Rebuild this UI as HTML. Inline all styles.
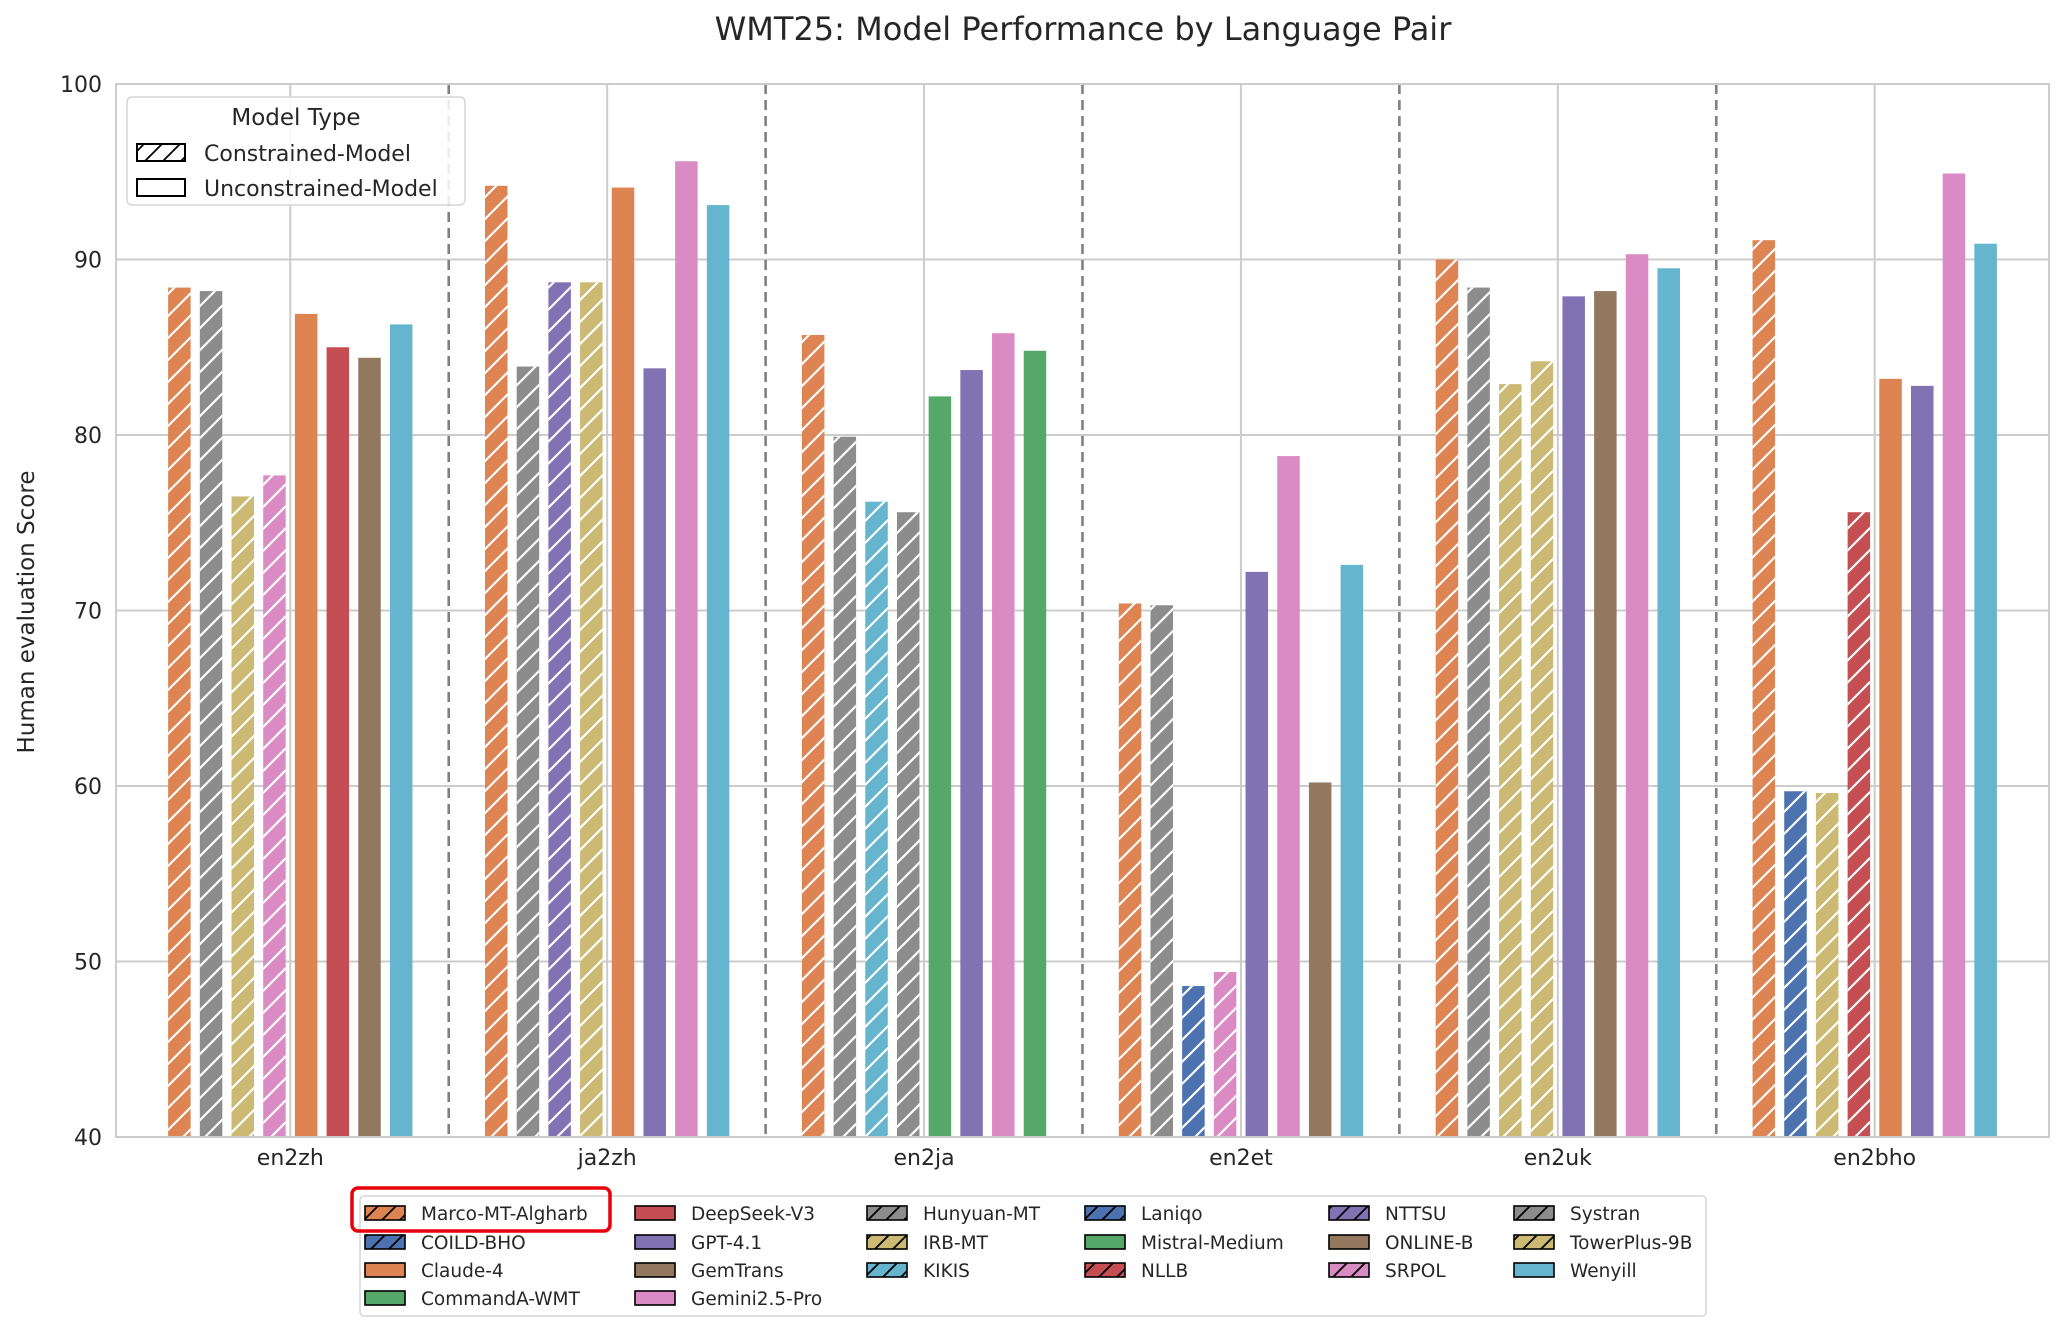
<!DOCTYPE html>
<html><head><meta charset="utf-8"><style>
html,body{margin:0;padding:0;background:#fff;}
svg{display:block;font-family:"DejaVu Sans","Liberation Sans",sans-serif;}
</style></head><body>
<svg id="chart" width="2065" height="1328" viewBox="0 0 2065 1328" xmlns="http://www.w3.org/2000/svg">
<defs>
<pattern id="hatch" patternUnits="userSpaceOnUse" width="22" height="22">
<path d="M-2,24 L24,-2 M-13,13 L13,-13 M9,35 L35,9" stroke="#fff" stroke-width="2.2"/>
</pattern>
<pattern id="hatchL" patternUnits="userSpaceOnUse" width="18" height="18">
<path d="M-2,20 L20,-2 M-11,11 L11,-11 M7,29 L29,7" stroke="#000" stroke-width="1.8"/>
</pattern>
</defs>
<g id="grid"></g>
<g id="bars"></g>
<g id="axes"></g>
<g id="legends"></g>
</svg>
<script>
const categories = ["en2zh","ja2zh","en2ja","en2et","en2uk","en2bho"];
const modelsEn2zh = ["Marco-MT-Algharb","Hunyuan-MT","IRB-MT","SRPOL","Claude-4","DeepSeek-V3","ONLINE-B","Wenyill"];
const valuesEn2zh = [88.4,88.2,76.5,77.7,86.9,85.0,84.4,86.3];
const modelsJa2zh = ["Marco-MT-Algharb","Hunyuan-MT","NTTSU","IRB-MT","Claude-4","GPT-4.1","Gemini2.5-Pro","Wenyill"];
const valuesJa2zh = [94.2,83.9,88.7,88.7,94.1,83.8,95.6,93.1];
const modelsEn2ja = ["Marco-MT-Algharb","Hunyuan-MT","KIKIS","Systran","Mistral-Medium","GPT-4.1","Gemini2.5-Pro","CommandA-WMT"];
const valuesEn2ja = [85.7,79.9,76.2,75.6,82.2,83.7,85.8,84.8];
const modelsEn2et = ["Marco-MT-Algharb","Hunyuan-MT","Laniqo","SRPOL","GPT-4.1","Gemini2.5-Pro","ONLINE-B","Wenyill"];
const valuesEn2et = [70.4,70.3,48.6,49.4,72.2,78.8,60.2,72.6];
const modelsEn2uk = ["Marco-MT-Algharb","Hunyuan-MT","IRB-MT","TowerPlus-9B","GPT-4.1","GemTrans","Gemini2.5-Pro","Wenyill"];
const valuesEn2uk = [90.0,88.4,82.9,84.2,87.9,88.2,90.3,89.5];
const modelsEn2bho = ["Marco-MT-Algharb","COILD-BHO","TowerPlus-9B","NLLB","Claude-4","GPT-4.1","Gemini2.5-Pro","Wenyill"];
const valuesEn2bho = [91.1,59.7,59.6,75.6,83.2,82.8,94.9,90.9];
const yTicks = [40,50,60,70,80,90,100];
const legendModels = ["Marco-MT-Algharb","COILD-BHO","Claude-4","CommandA-WMT","DeepSeek-V3","GPT-4.1","GemTrans","Gemini2.5-Pro","Hunyuan-MT","IRB-MT","KIKIS","Laniqo","Mistral-Medium","NLLB","NTTSU","ONLINE-B","SRPOL","Systran","TowerPlus-9B","Wenyill"];
const legendColors = ["#dd8452","#4c72b0","#dd8452","#55a868","#c44e52","#8172b3","#937860","#da8bc3","#8c8c8c","#ccb974","#64b5cd","#4c72b0","#55a868","#c44e52","#8172b3","#937860","#da8bc3","#8c8c8c","#ccb974","#64b5cd"];
const legendConstrained = [1,1,0,0,0,0,0,0,1,1,1,1,0,1,1,0,1,1,1,0];

const groupModels=[modelsEn2zh,modelsJa2zh,modelsEn2ja,modelsEn2et,modelsEn2uk,modelsEn2bho];
const groupValues=[valuesEn2zh,valuesJa2zh,valuesEn2ja,valuesEn2et,valuesEn2uk,valuesEn2bho];
const NS="http://www.w3.org/2000/svg";
const L=116,R=2049,T=84,B=1137;
const xMin=-0.55,xMax=5.55,yMin=40,yMax=100;
function xs(v){return L+(v-xMin)/(xMax-xMin)*(R-L);}
function ys(v){return B-(v-yMin)/(yMax-yMin)*(B-T);}
function mk(tag,attrs,parent,text){const e=document.createElementNS(NS,tag);for(const k in attrs)e.setAttribute(k,attrs[k]);if(text!==undefined)e.textContent=text;parent.appendChild(e);return e;}
const grid=document.getElementById('grid'),bars=document.getElementById('bars'),axes=document.getElementById('axes'),lg=document.getElementById('legends');
function info(name){const i=legendModels.indexOf(name);return {c:legendColors[i],h:legendConstrained[i]};}

yTicks.forEach(t=>{
  const l=mk('line',{x1:L,x2:R,y1:ys(t),y2:ys(t),stroke:'#cccccc','stroke-width':2},grid);
  
  
  const tx=mk('text',{x:L-14,y:ys(t)+8,'text-anchor':'end','font-size':22,fill:'#262626'},axes,String(t));
  
  
});
categories.forEach((c,i)=>{
  const l=mk('line',{x1:xs(i),x2:xs(i),y1:T,y2:B,stroke:'#cccccc','stroke-width':2},grid);
  
  
  const tx=mk('text',{x:xs(i),y:B+28,'text-anchor':'middle','font-size':22,fill:'#262626'},axes,c);
  
  
  if(i<categories.length-1){
    const d=mk('line',{x1:xs(i+0.5),x2:xs(i+0.5),y1:T,y2:B,stroke:'#808080','stroke-width':2.6,'stroke-dasharray':'10,6'},axes);
    
    
  }
  const mods=groupModels[i],vals=groupValues[i];
  vals.forEach((v,j)=>{
    const f=info(mods[j]);
    const cx=xs(i-0.35+j*0.1),w=22.5;
    const g=mk('g',{},bars);
    
    
    mk('rect',{x:cx-w/2,y:ys(v),width:w,height:B-ys(v),fill:f.c},g);
    if(f.h) mk('rect',{x:cx-w/2,y:ys(v),width:w,height:B-ys(v),fill:'url(#hatch)'},g);
  });
});
const frame=mk('rect',{x:L,y:T,width:R-L,height:B-T,fill:'none',stroke:'#cccccc','stroke-width':2},axes);


const title=mk('text',{x:1083,y:40,'text-anchor':'middle','font-size':32,fill:'#262626'},axes,'WMT25: Model Performance by Language Pair');


const yl=mk('text',{x:0,y:0,transform:'translate(34,612) rotate(-90)','text-anchor':'middle','font-size':23,fill:'#262626'},axes,'Human evaluation Score');



// model type legend
const tl=mk('g',{},lg);


mk('rect',{x:127,y:97,width:338,height:108,rx:5,fill:'#fff','fill-opacity':0.85,stroke:'#d6d6d6','stroke-width':1.5},tl);
mk('text',{x:296,y:125,'text-anchor':'middle','font-size':23,fill:'#262626'},tl,'Model Type');
[['Constrained-Model',1,153],['Unconstrained-Model',0,188]].forEach(e=>{
  const g=mk('g',{},tl);
  
  
  mk('rect',{x:137,y:e[2]-9,width:48,height:17,fill:e[1]?'url(#hatchL)':'#fff',stroke:'#000','stroke-width':2},g);
  mk('text',{x:204,y:e[2]+8,'font-size':22,fill:'#262626'},g,e[0]);
});

// model legend (6 columns, matplotlib fill: 4,4,3,3,3,3)
const ml=mk('g',{},lg);


mk('rect',{x:360,y:1196,width:1346,height:120,rx:4,fill:'#fff',stroke:'#d6d6d6','stroke-width':1.5},ml);
const colX=[365,635,867,1085,1329,1514];
const rowY=[1213,1242,1270,1298];
const colSizes=[4,4,3,3,3,3];
let idx=0;
colSizes.forEach((n,col)=>{
  for(let row=0;row<n;row++,idx++){
    const i=idx;
    const g=mk('g',{},ml);
    
    
    mk('rect',{x:colX[col],y:rowY[row]-7,width:40,height:14,fill:legendColors[i],stroke:'#000','stroke-width':1.6},g);
    if(legendConstrained[i]) mk('rect',{x:colX[col],y:rowY[row]-7,width:40,height:14,fill:'url(#hatchL)'},g);
    mk('text',{x:colX[col]+56,y:rowY[row]+7,'font-size':18.5,fill:'#262626'},g,legendModels[i]);
  }
});
const hl=mk('rect',{x:352,y:1188,width:258,height:43,rx:6,fill:'none',stroke:'#e8000b','stroke-width':3.5},ml);


</script>
</body></html>
